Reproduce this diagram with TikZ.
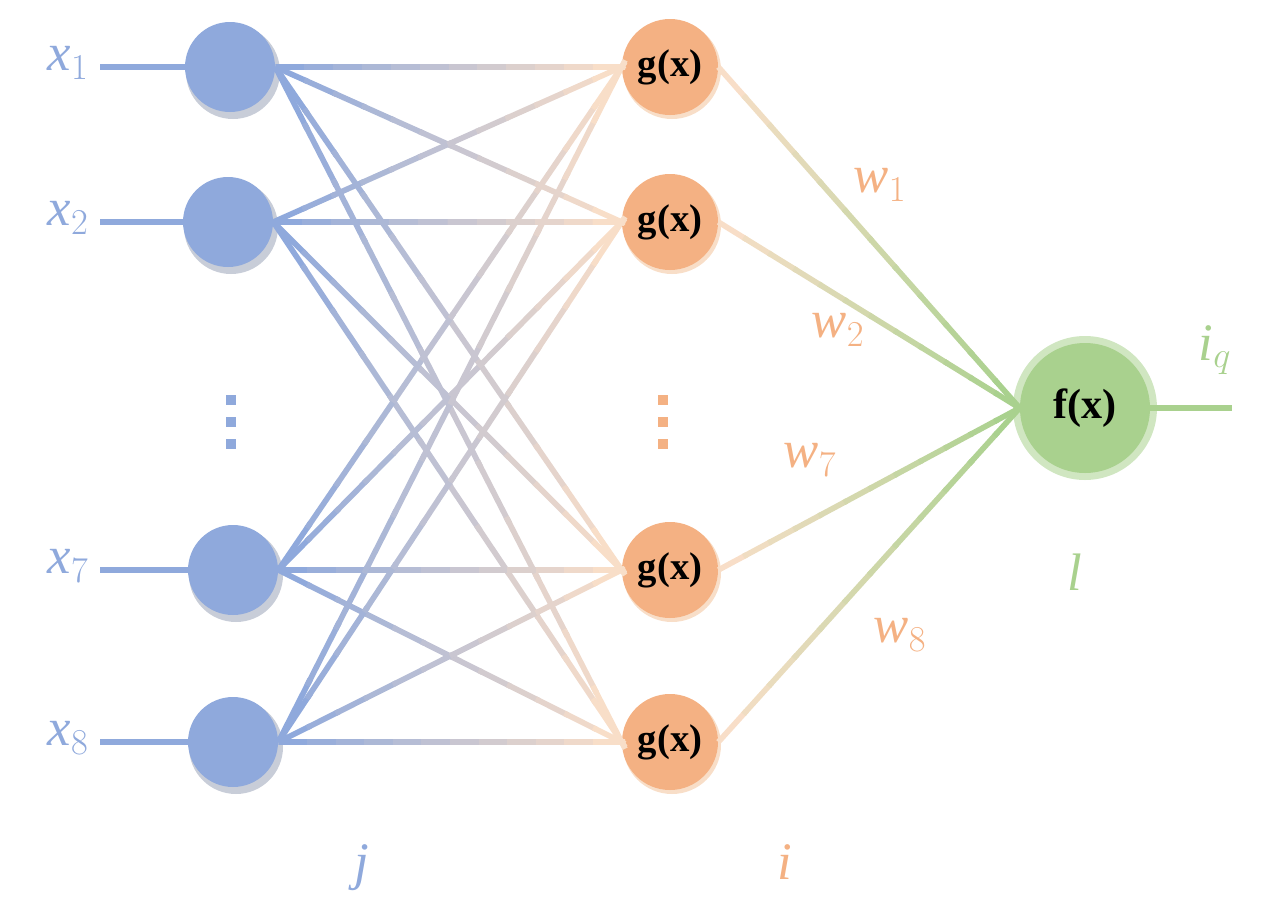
\documentclass[tikz,border=0pt]{standalone}
\usepackage{fontspec}
\setmainfont{Liberation Serif}
\usetikzlibrary{calc}
\definecolor{cb}{RGB}{143,169,220}
\definecolor{co}{RGB}{244,177,131}
\definecolor{cp}{RGB}{248,222,200}
\definecolor{cg}{RGB}{169,209,142}
\definecolor{csh}{RGB}{200,205,216}
\tikzset{
 inn/.style={circle,fill=cb,minimum size=90\unit,inner sep=0},
 hid/.style={circle,fill=co,minimum size=96\unit,inner sep=0,font=\fontsize{22}{22}\selectfont\bfseries},
 outn/.style={circle,fill=cg,minimum size=130\unit,inner sep=0,font=\fontsize{24}{24}\selectfont\bfseries},
 lab/.style={font=\fontsize{30}{30}\selectfont\itshape},
 ln/.style={line width=3.2pt},
}
\newlength{\unit}\setlength{\unit}{0.02cm}
\newcommand{\gl}[4]{% from, to, col1, col2
 \foreach \k in {0,...,11}{
  \pgfmathsetmacro{\pa}{\k/12}\pgfmathsetmacro{\pb}{(\k+1)/12+0.01}
  \pgfmathtruncatemacro{\pc}{100-\k*100/11}
  \draw[ln,color=#3!\pc!#4] ($(#1)!\pa!(#2)$) -- ($(#1)!\pb!(#2)$);}}
\begin{document}
\begin{tikzpicture}[x=0.02cm,y=-0.02cm]
\useasboundingbox (0,0) rectangle (1276,920);
% shadows
\foreach \n/\x/\y in {1/230/67,2/228/222,7/233/570,8/233/742}{
 \fill[csh] (\x+3,\y+5) circle (47);}
\foreach \n/\x/\y in {1/670/67,2/670/222,7/670/570,8/670/742}{
 \fill[cp] (\x+2,\y+3) circle (49);}
\fill[cg!55] (1085,408) circle (72);
% nodes
\node[inn] (b1) at (230,67) {};
\node[inn] (b2) at (228,222) {};
\node[inn] (b7) at (233,570) {};
\node[inn] (b8) at (233,742) {};
\node[hid] (g1) at (670,67) {g(x)};
\node[hid] (g2) at (670,222) {g(x)};
\node[hid] (g7) at (670,570) {g(x)};
\node[hid] (g8) at (670,742) {g(x)};
\node[outn] (f) at (1085,408) {f(x)};
% inputs
\foreach \n/\y in {1/67,2/222,7/570,8/742}{
 \node[lab,text=cb,anchor=east] (x\n) at (95,\y-4) {x$_{\n}$};
 \coordinate (s\n) at (100,\y);
 \draw[ln,cb] (s\n) -- (b\n.west);}
% hidden connections
\foreach \a in {1,2,7,8}{\foreach \b in {1,2,7,8}{
 \gl{b\a.east}{g\b.west}{cb}{cp}}}
\foreach \b in {1,2,7,8}{\gl{g\b.east}{f.west}{cp}{cg}}
\coordinate (o) at (1232,408);
\draw[ln,cg] (f.east) -- (o);
% dots
\foreach \y in {400,422,444}{
 \fill[cb] (226,\y-5) rectangle (236,\y+5);
 \fill[co] (658,\y-5) rectangle (668,\y+5);}
% labels
\node[lab,text=co] (w1) at (880,185) {w$_1$};
\node[lab,text=co] (w2) at (838,330) {w$_2$};
\node[lab,text=co] (w7) at (810,460) {w$_7$};
\node[lab,text=co] (w8) at (900,635) {w$_8$};
\node[lab,text=cg] (iq) at (1215,350) {i$_q$};
\node[lab,text=cg] (l) at (1075,572) {l};
\node[lab,text=cb] (j) at (362,868) {j};
\node[lab,text=co] (i) at (785,862) {i};
\end{tikzpicture}
\end{document}
